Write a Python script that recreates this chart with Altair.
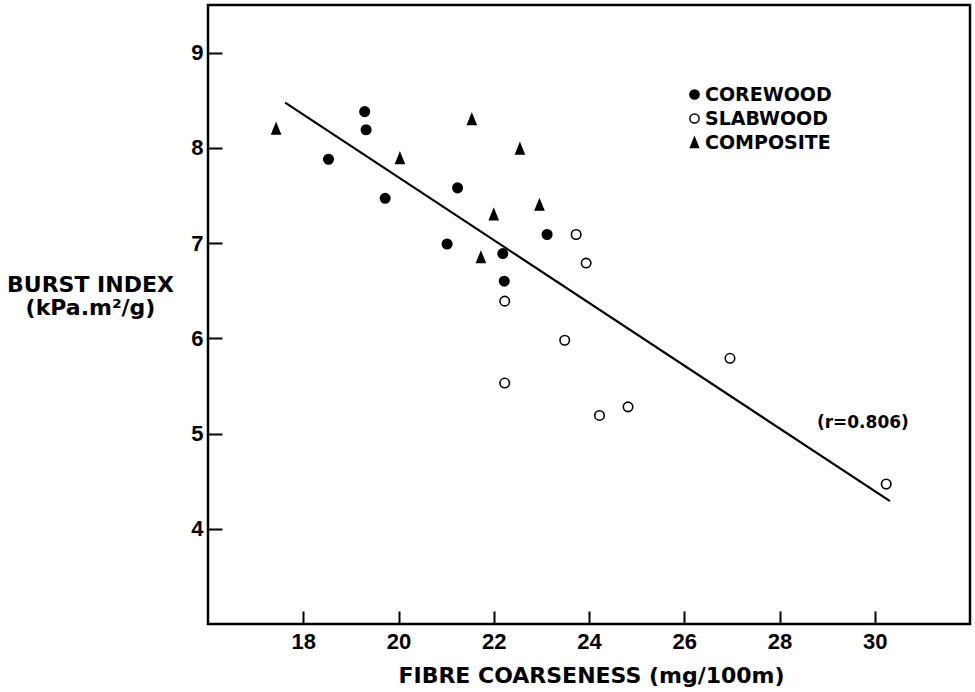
import altair as alt
import pandas as pd

# ---- data ----
core_x = [19.29, 19.32, 18.53, 19.72, 21.24, 21.02, 22.19, 22.22, 23.12]
core_y = [8.38, 8.19, 7.88, 7.47, 7.58, 6.99, 6.89, 6.60, 7.09]

slab_x = [23.73, 23.94, 22.23, 23.49, 22.23, 24.82, 24.22, 26.96, 30.24]
slab_y = [7.09, 6.79, 6.39, 5.98, 5.53, 5.28, 5.19, 5.79, 4.47]

comp_x = [17.43, 21.54, 20.03, 22.55, 22.96, 22.00, 21.73]
comp_y = [8.20, 8.30, 7.89, 7.99, 7.40, 7.30, 6.85]

fit_x = [17.62, 30.32]
fit_y = [8.475, 4.29]

types = ["COREWOOD", "SLABWOOD", "COMPOSITE"]
x_ticks = [18, 20, 22, 24, 26, 28, 30]
y_ticks = [4, 5, 6, 7, 8, 9]

note_text = ["(r=0.806)"]
note_x = [29.75]
note_y = [5.11]

W, H = 762, 619
BOLD = "DejaVu Sans"
TICKF = "Liberation Sans"

rows = []
for t, xs, ys in zip(types, [core_x, slab_x, comp_x], [core_y, slab_y, comp_y]):
    for a, b in zip(xs, ys):
        rows.append({"x": a, "y": b, "type": t})
pts = pd.DataFrame(rows)
fit = pd.DataFrame({"x": fit_x, "y": fit_y})
note = pd.DataFrame({"x": note_x, "y": note_y, "t": note_text})

xscale = alt.Scale(domain=[16, 32], nice=False, zero=False)
yscale = alt.Scale(domain=[3, 9.5], nice=False, zero=False)

# axes are pulled inside the frame so their ticks point inward
xaxis = alt.Axis(
    values=x_ticks, format="d", domain=False, grid=False,
    ticks=True, tickSize=13, tickWidth=2, tickColor="black", offset=-13,
    labelFont=TICKF, labelFontSize=22, labelFontWeight="bold", labelColor="black",
    labelPadding=7,
    title="FIBRE COARSENESS (mg/100m)", titleFont=BOLD, titleFontSize=22,
    titleFontWeight="bold", titleColor="black", titleX=383, titleY=71,
    titleBaseline="alphabetic", titleAlign="center",
)
yaxis = alt.Axis(
    values=y_ticks, format="d", domain=False, grid=False,
    ticks=True, tickSize=14, tickWidth=2, tickColor="black", offset=-14,
    labelFont=TICKF, labelFontSize=22, labelFontWeight="bold", labelColor="black",
    labelPadding=5,
    title=["BURST INDEX", "(kPa.m²/g)"], titleFont=BOLD, titleFontSize=22,
    titleFontWeight="bold", titleColor="black", titleAngle=0, titleAlign="center",
    titleBaseline="alphabetic", titleX=-132, titleY=286, titleLineHeight=23,
)

tri = "M0,-1.07L0.87,1.07L-0.87,1.07Z"
leg = alt.Legend(title=None, orient="none", legendX=477, legendY=80)

points = alt.Chart(pts).mark_point(filled=False, opacity=1, size=90, strokeWidth=1.6).encode(
    x=alt.X("x:Q", scale=xscale, axis=xaxis),
    y=alt.Y("y:Q", scale=yscale, axis=yaxis),
    shape=alt.Shape("type:N", scale=alt.Scale(domain=types, range=["circle", "circle", tri]), legend=leg),
    fill=alt.Fill("type:N", scale=alt.Scale(domain=types, range=["black", "white", "black"]), legend=leg),
    stroke=alt.Stroke("type:N", scale=alt.Scale(domain=types, range=["black", "black", "black"]), legend=leg),
)

line = alt.Chart(fit).mark_line(color="black", strokeWidth=2.2).encode(
    x=alt.X("x:Q", scale=xscale), y=alt.Y("y:Q", scale=yscale)
)

txt = alt.Chart(note).mark_text(
    font=BOLD, fontSize=17, fontWeight="bold", color="black", baseline="middle", align="center"
).encode(x=alt.X("x:Q", scale=xscale), y=alt.Y("y:Q", scale=yscale), text="t:N")

chart = alt.layer(points, line, txt).properties(
    width=W, height=H,
    autosize=alt.AutoSizeParams(type="none"),
    padding={"left": 208, "top": 5, "right": 5, "bottom": 68},
).configure(
    background="white"
).configure_view(
    stroke="black", strokeWidth=2.5
).configure_legend(
    labelFont=BOLD, labelFontSize=19, labelFontWeight="bold", labelColor="black",
    labelOffset=1, rowPadding=4, symbolSize=85, symbolStrokeWidth=1.5, padding=0,
)

chart.save("out.html", embed_options={"renderer": "svg", "actions": False})
